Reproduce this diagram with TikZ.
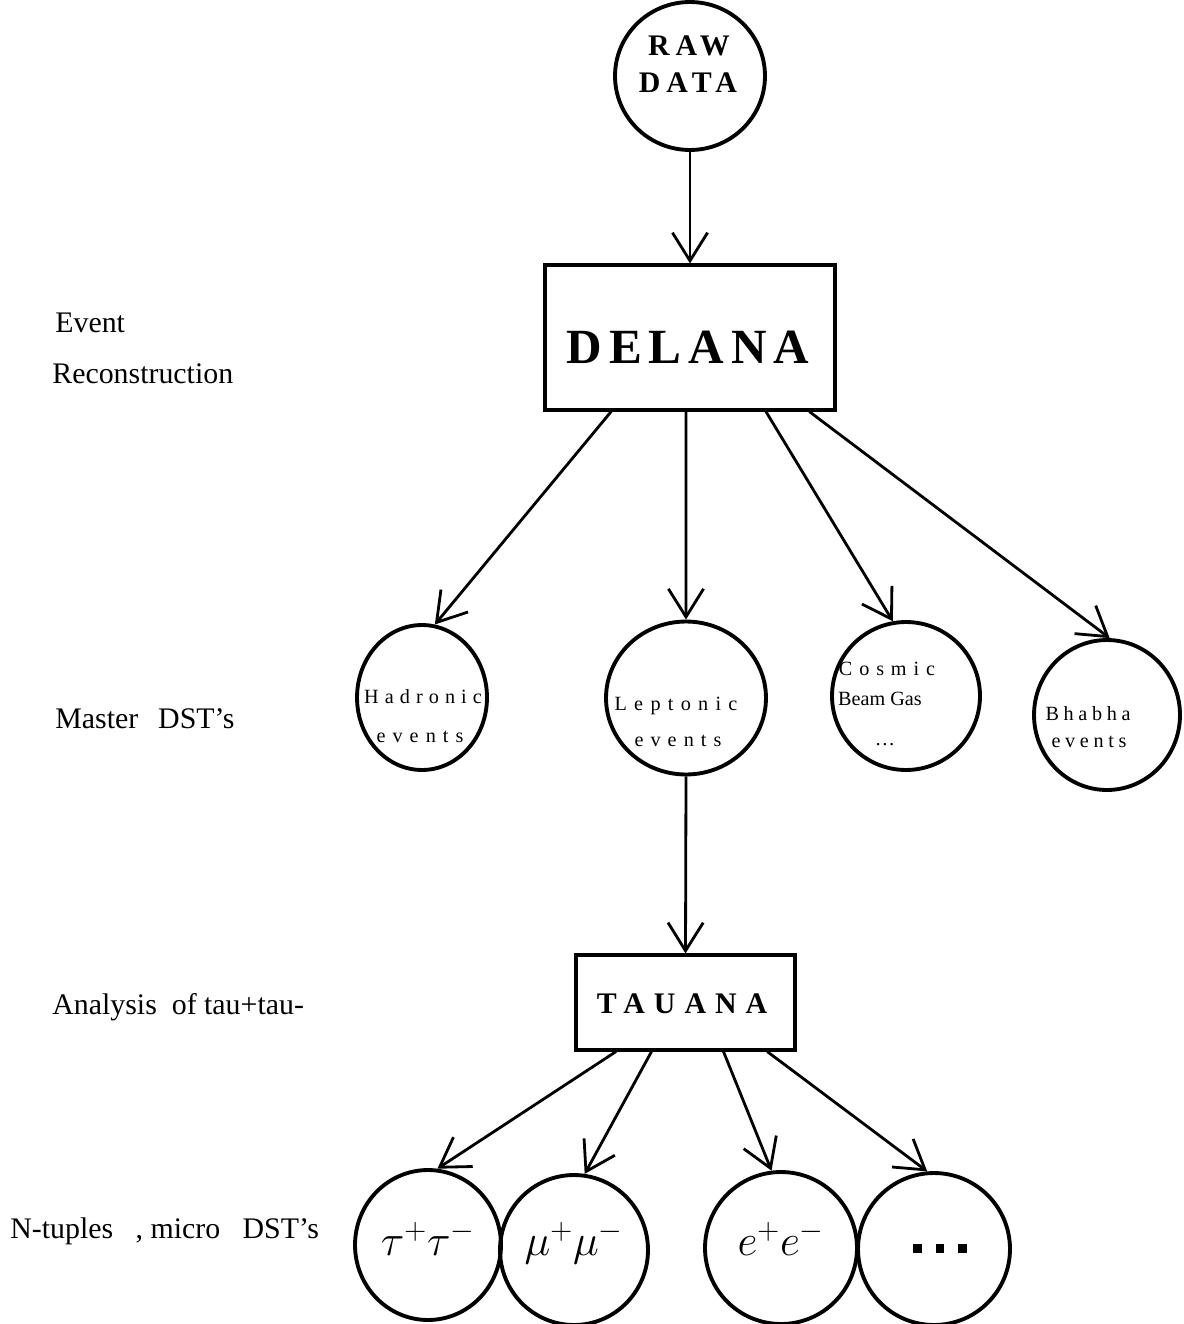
\documentclass[tikz,border=0pt]{standalone}
\usepackage{fontspec}
\setmainfont{Liberation Serif}
\usepackage{tikz}
\usetikzlibrary{shapes.geometric,arrows.meta,calc}

% letter-spaced serif for the names in the circles and boxes
\newcommand{\wide}[2]{\addfontfeature{LetterSpace=#1}#2}

\begin{document}
\begin{tikzpicture}[x=0.02cm,y=-0.02cm,
  circ/.style={draw,ellipse,line width=2.2pt,inner sep=0pt},
  box/.style={draw,rectangle,line width=1.8pt,inner sep=0pt},
  stage/.style={anchor=base west,inner sep=0pt,font=\fontsize{17}{20}\selectfont},
  txt/.style={anchor=base,inner sep=0pt},
  arr/.style={-{Straight Barb[length=16pt,width=20pt,line width=1.6pt]},line width=1.6pt}]
\useasboundingbox (0,0) rectangle (1183,1324);

% stages on the left
\node[stage] (evt) at (55,333) {Event};
\node[stage] (rec) at (52,383) {Reconstruction};
\node[stage] (mst) at (55,728) {Master~~\,DST's};
\node[stage] (ana) at (52,1014) {Analysis~~of~tau+tau-};
\node[stage] (ntp) at (10,1238) {N-tuples~~~, micro~~~DST's};

% raw data and reconstruction
\node[circ,minimum width=3cm,minimum height=2.96cm] (raw) at (690,76) {};
\node[txt,font=\fontsize{17}{20}\selectfont\bfseries] (rawa) at (689,56) {\wide{20}{RAW}};
\node[txt,font=\fontsize{17}{20}\selectfont\bfseries] (rawb) at (688,93) {\wide{20}{DATA}};

\node[box,minimum width=5.8cm,minimum height=2.9cm] (delana) at (690,337.5) {};
\node[txt,font=\fontsize{28}{30}\selectfont\bfseries] (delanatxt) at (688,363) {\wide{14}{DELANA}};

\draw[arr] (raw.south) -- (delana.north);

% master DST's
\node[circ,minimum width=2.6cm,minimum height=2.9cm] (had) at (422,697.5) {};
\node[circ,minimum width=3.2cm,minimum height=3.06cm] (lep) at (686,698) {};
\node[circ,minimum width=2.96cm,minimum height=2.96cm] (cos) at (906,696) {};
\node[circ,minimum width=2.92cm,minimum height=3cm] (bha) at (1107,715) {};

\begin{scope}[every node/.style={txt,font=\fontsize{11.5}{13}\selectfont}]
\node (hada) at (423,703) {\wide{30}{Hadronic}};
\node (hadb) at (420,742) {\wide{35}{events}};
\node (lepa) at (676,710) {\wide{36}{Leptonic}};
\node (lepb) at (678,746) {\wide{35}{events}};
\node (cosa) at (887,675) {\wide{34}{Cosmic}};
\node (cosb) at (880,705) {Beam Gas};
\node (cosc) at (885,745) {\dots};
\node (bhaa) at (1088,720) {\wide{23}{Bhabha}};
\node (bhab) at (1089,747) {\wide{23}{events}};
\end{scope}

\draw[arr] ($(delana.south west)!0.231!(delana.south east)$) -- (had.80);
\draw[arr] ($(delana.south west)!0.486!(delana.south east)$) -- (lep.north);
\draw[arr] ($(delana.south west)!0.759!(delana.south east)$) -- (cos.100);
\draw[arr] ($(delana.south west)!0.907!(delana.south east)$) -- (bha.88);

% tau analysis
\node[box,minimum width=4.38cm,minimum height=1.9cm] (tauana) at (685.5,1002.5) {};
\node[txt,font=\fontsize{17}{20}\selectfont\bfseries] (tauanatxt) at (682,1013) {\wide{30}{TAUANA}};

\draw[arr] (lep.south) -- (tauana.north);

% n-tuples and micro DST's
\node[circ,minimum width=2.92cm,minimum height=3cm] (tt) at (428,1245) {};
\node[circ,minimum width=2.96cm,minimum height=3cm] (mm) at (574,1250) {};
\node[circ,minimum width=3.04cm,minimum height=3.04cm] (ee) at (781,1248) {};
\node[circ,minimum width=3.04cm,minimum height=3.04cm] (more) at (934,1249) {};

\begin{scope}[every node/.style={txt,font=\fontsize{25}{28}\selectfont}]
\node (tttxt) at (428,1255) {$\tau^+\tau^-$};
\node (mmtxt) at (574,1255) {$\mu^+\mu^-$};
\node (eetxt) at (781,1255) {$e^+e^-$};
\end{scope}
\node[txt] (moretxt) at (940,1253) {\rule{5pt}{5pt}\hspace{8pt}\rule{5pt}{5pt}\hspace{8pt}\rule{5pt}{5pt}};

\draw[arr] ($(tauana.south west)!0.187!(tauana.south east)$) -- (tt.83);
\draw[arr] ($(tauana.south west)!0.347!(tauana.south east)$) -- (mm.82);
\draw[arr] ($(tauana.south west)!0.671!(tauana.south east)$) -- (ee.97);
\draw[arr] ($(tauana.south west)!0.868!(tauana.south east)$) -- (more.95);
\end{tikzpicture}
\end{document}
